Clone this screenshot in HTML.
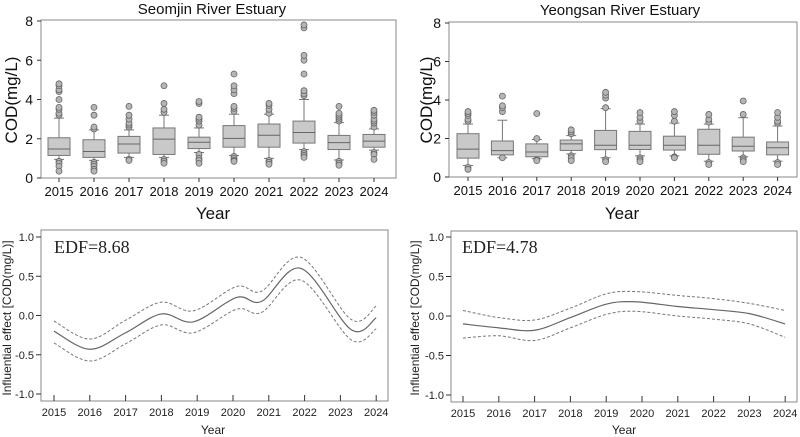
<!DOCTYPE html>
<html><head><meta charset="utf-8"><style>
html,body{margin:0;padding:0;background:#fff}
svg{display:block;font-family:"Liberation Sans",Arial,sans-serif}
</style></head><body>
<svg id="s" width="800" height="437" viewBox="0 0 800 437" xmlns="http://www.w3.org/2000/svg">
<rect width="800" height="437" fill="#fff"/>
<text x="212" y="14" font-size="15" text-anchor="middle" fill="#111">Seomjin River Estuary</text>
<text x="620" y="15" font-size="15" text-anchor="middle" fill="#111">Yeongsan River Estuary</text>
<text x="213" y="219" font-size="17" text-anchor="middle" fill="#111">Year</text>
<text x="622" y="219" font-size="17" text-anchor="middle" fill="#111">Year</text>
<text transform="translate(17,100) rotate(-90)" font-size="17" text-anchor="middle" fill="#111">COD(mg/L)</text>
<text transform="translate(432,100) rotate(-90)" font-size="17" text-anchor="middle" fill="#111">COD(mg/L)</text>
<text x="213" y="434" font-size="12" text-anchor="middle" fill="#222">Year</text>
<text x="624" y="434" font-size="12" text-anchor="middle" fill="#222">Year</text>
<text transform="translate(11,318) rotate(-90)" font-size="12" text-anchor="middle" fill="#222">Influential effect [COD(mg/L)]</text>
<text transform="translate(419,318) rotate(-90)" font-size="12" text-anchor="middle" fill="#222">Influential effect [COD(mg/L)]</text>
<text x="54" y="253" font-size="18" font-family="'Liberation Serif',serif" fill="#222">EDF=8.68</text>
<text x="462" y="253" font-size="18" font-family="'Liberation Serif',serif" fill="#222">EDF=4.78</text>
<g id="g"></g>
</svg>
<script>
var NS="http://www.w3.org/2000/svg",G=document.getElementById('g');
function el(t,a,txt){var e=document.createElementNS(NS,t);for(var k in a)e.setAttribute(k,a[k]);if(txt!==undefined)e.textContent=txt;G.appendChild(e);return e;}
function boxPanel(x0,x1,yTop,yBot,xt0,dx,data){
  var sc=(yBot-yTop)/8;function Y(v){return yBot-v*sc;}
  el('rect',{x:x0,y:yTop-1,width:x1-x0,height:yBot-yTop+1,fill:'none',stroke:'#888','stroke-width':1});
  for(var v=0;v<=8;v+=2){el('line',{x1:x0-4,x2:x0,y1:Y(v),y2:Y(v),stroke:'#333'});el('text',{x:x0-8,y:Y(v)+5,'font-size':14,'text-anchor':'end',fill:'#111'},v);}
  data.forEach(function(d,i){var cx=xt0+i*dx,w=11;
    el('line',{x1:cx,x2:cx,y1:yBot,y2:yBot+4,stroke:'#333'});
    el('text',{x:cx,y:yBot+18,'font-size':13,'text-anchor':'middle',fill:'#111'},2015+i);
    el('line',{x1:cx,x2:cx,y1:Y(d[4]),y2:Y(d[2]),stroke:'#777'});
    el('line',{x1:cx,x2:cx,y1:Y(d[0]),y2:Y(d[3]),stroke:'#777'});
    el('line',{x1:cx-5,x2:cx+5,y1:Y(d[4]),y2:Y(d[4]),stroke:'#777'});
    el('line',{x1:cx-5,x2:cx+5,y1:Y(d[3]),y2:Y(d[3]),stroke:'#777'});
    el('rect',{x:cx-w,y:Y(d[2]),width:2*w,height:Y(d[0])-Y(d[2]),fill:'#c9c9c9',stroke:'#777'});
    el('line',{x1:cx-w,x2:cx+w,y1:Y(d[1]),y2:Y(d[1]),stroke:'#666'});
    d[5].concat(d[6]).forEach(function(o){el('circle',{cx:cx,cy:Y(o),r:3,fill:'#b5b5b5',stroke:'#666','stroke-width':0.8});});
  });
}
boxPanel(41,396,21,178,59,35,[
[1.15,1.48,2.05,0.95,3.05,[3.2,3.3,3.5,3.6,4.0,4.4,4.5,4.7,4.8],[0.85,0.75,0.6,0.35]],
[1.05,1.35,1.95,0.9,2.45,[2.5,2.6,3.2,3.6],[0.8,0.7,0.6,0.45,0.35]],
[1.27,1.73,2.12,1.05,2.45,[2.6,2.7,2.8,3.0,3.2,3.65],[0.95,0.9]],
[1.2,1.98,2.55,1.05,3.2,[3.35,3.5,3.8,4.7],[0.95,0.85,0.75]],
[1.5,1.82,2.08,1.3,2.55,[2.7,2.9,3.0,3.1,3.8,3.9],[1.2,1.0,0.9,0.75]],
[1.57,2.02,2.67,1.15,3.25,[3.4,3.55,3.65,4.3,4.5,4.7,5.3],[1.1,1.0,0.9,0.85]],
[1.57,2.18,2.75,1.0,3.25,[3.3,3.5,3.7,3.8],[0.9,0.8,0.7]],
[1.78,2.32,2.9,1.45,4.0,[4.2,4.3,4.45,5.3,6.0,6.25,7.65,7.8],[1.35,1.25,1.15,1.05]],
[1.45,1.8,2.17,0.92,2.82,[2.9,3.0,3.1,3.2,3.3,3.65],[0.85,0.75,0.65]],
[1.57,1.88,2.22,1.42,2.5,[2.6,2.8,2.9,3.0,3.2,3.35,3.45],[1.3,1.2,0.95]]]);
boxPanel(449,797,23,177,468,34.4,[
[0.98,1.45,2.25,0.6,2.75,[2.9,3.0,3.2,3.3,3.4],[0.5,0.4]],
[1.15,1.37,1.87,1.0,2.95,[3.4,3.6,3.7,4.2],[1.0]],
[1.05,1.3,1.72,0.95,1.95,[2.0,3.3],[0.9,0.85]],
[1.38,1.72,1.92,1.2,2.15,[2.25,2.35,2.45],[1.1,1.0,0.85]],
[1.42,1.65,2.42,1.0,3.55,[3.6,4.1,4.25,4.4],[0.9,0.8]],
[1.43,1.65,2.37,1.1,2.75,[2.9,3.1,3.35],[1.0,0.9,0.8]],
[1.4,1.65,2.12,1.1,2.8,[2.9,3.2,3.4],[1.05,1.0]],
[1.18,1.65,2.48,0.82,2.75,[2.85,3.0,3.25],[0.75,0.65]],
[1.35,1.6,2.07,1.05,3.08,[3.25,3.95],[1.0,0.9,0.8]],
[1.15,1.52,1.82,0.82,2.65,[2.8,2.9,3.1,3.35],[0.75,0.65]]]);
function spline(pts){var d='M'+pts[0][0]+','+pts[0][1];
  for(var i=0;i<pts.length-1;i++){var p0=pts[i-1]||pts[i],p1=pts[i],p2=pts[i+1],p3=pts[i+2]||p2;
    d+=' C'+(p1[0]+(p2[0]-p0[0])/6)+','+(p1[1]+(p2[1]-p0[1])/6)+' '+(p2[0]-(p3[0]-p1[0])/6)+','+(p2[1]-(p3[1]-p1[1])/6)+' '+p2[0]+','+p2[1];}
  return d;}
function gamPanel(x0,x1,yT,yB,y1,ym1,xt0,dx,xs,c,u,l){
  el('rect',{x:x0,y:yT,width:x1-x0,height:yB-yT,fill:'none',stroke:'#888'});
  var sc=(ym1-y1)/2;function Y(v){return y1+(1-v)*sc;}function X(t){return xt0+(t-2015)*dx;}
  [1,0.5,0,-0.5,-1].forEach(function(v){el('line',{x1:x0-5,x2:x0,y1:Y(v),y2:Y(v),stroke:'#333'});
    el('text',{x:x0-7,y:Y(v)+4,'font-size':11,'text-anchor':'end',fill:'#222'},v.toFixed(1));});
  for(var i=0;i<10;i++){var cx=X(2015+i);el('line',{x1:cx,x2:cx,y1:yB-6,y2:yB,stroke:'#333'});
    el('text',{x:cx,y:yB+15,'font-size':11,'text-anchor':'middle',fill:'#222'},2015+i);}
  function P(a){return xs.map(function(t,i){return [X(t),Y(a[i])];});}
  el('path',{d:spline(P(c)),fill:'none',stroke:'#666','stroke-width':1.2});
  el('path',{d:spline(P(u)),fill:'none',stroke:'#777','stroke-width':1,'stroke-dasharray':'3,2'});
  el('path',{d:spline(P(l)),fill:'none',stroke:'#777','stroke-width':1,'stroke-dasharray':'3,2'});
}
var xsL=[2015,2016,2017,2018,2018.9,2020.1,2020.8,2021.9,2023.3,2024];
gamPanel(41,388,230,401,237,394,54,35.8,xsL,
[-0.2,-0.43,-0.22,0.02,-0.08,0.23,0.18,0.6,-0.18,-0.03],
[-0.07,-0.3,-0.06,0.17,0.06,0.37,0.31,0.74,-0.05,0.12],
[-0.35,-0.58,-0.36,-0.12,-0.22,0.08,0.04,0.45,-0.31,-0.17]);
gamPanel(451,797,231,402,237,395,463,35.8,[2015,2016,2017,2018,2019,2019.8,2021,2022,2023,2024],
[-0.1,-0.15,-0.18,-0.02,0.15,0.18,0.12,0.08,0.03,-0.1],
[0.07,-0.02,-0.05,0.1,0.28,0.31,0.26,0.22,0.16,0.07],
[-0.28,-0.25,-0.31,-0.15,0.02,0.06,0.0,-0.04,-0.1,-0.27]);
</script>
</body></html>
